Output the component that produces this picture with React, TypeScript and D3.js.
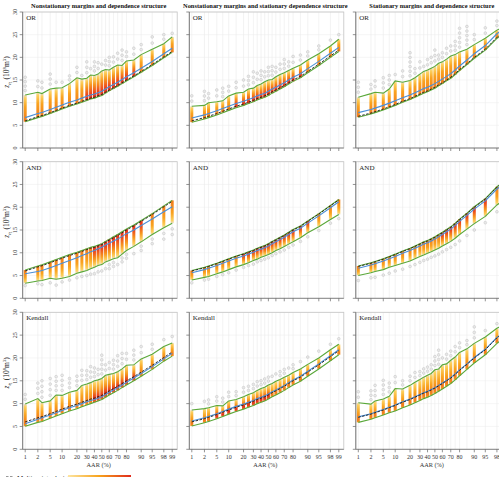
import React, { useRef, useEffect } from 'react';
import * as d3 from 'd3';

// AAR (%) positions of the simulated columns
const aar = [1, 2, 3, 5, 7.5, 10, 15, 20, 25, 30, 35, 40, 45, 50, 55, 60, 65, 70, 75, 80, 85, 90, 95, 98, 99];
const xTickValues = [1, 2, 5, 10, 20, 30, 40, 50, 60, 70, 80, 90, 95, 98, 99];
const yTickValues = [0, 5, 10, 15, 20, 25, 30];

const colTitles = [
  'Nonstationary margins and dependence structure',
  'Nonstationary margins and stationary dependence structure',
  'Stationary margins and dependence structure',
];
const rowNames = ['OR', 'AND', 'Kendall'];

// design line (black dashed), one per column
const designC1 = [6.0, 6.9, 7.15, 7.8, 8.3, 8.8, 9.4, 9.9, 10.3, 10.7, 11.0, 11.2, 11.5, 11.8, 12.3, 12.8, 13.3, 13.8, 14.4, 15.0, 15.9, 16.9, 18.4, 20.1, 21.3];
const designC2 = [6.0, 6.7, 7.0, 7.6, 8.1, 8.6, 9.2, 9.7, 10.1, 10.5, 10.9, 11.2, 11.5, 11.9, 12.4, 12.8, 13.3, 13.8, 14.4, 15.0, 15.8, 16.9, 18.5, 20.3, 21.6];
const designC3 = [7.0, 7.7, 8.0, 8.6, 9.1, 9.6, 10.3, 10.9, 11.4, 11.9, 12.3, 12.6, 13.0, 13.4, 13.9, 14.4, 15.0, 15.6, 16.4, 17.3, 18.6, 20.0, 21.8, 24.4, 25.8];

// OR
const orC1Blue = [6.7, 7.6, 7.85, 8.5, 9.0, 9.5, 10.1, 10.6, 11.0, 11.4, 11.7, 11.9, 12.2, 12.5, 13.0, 13.5, 14.0, 14.5, 15.1, 15.7, 16.6, 17.6, 19.1, 20.8, 22.0];
const orC1Lower = [5.8, 6.7, 6.95, 7.6, 8.1, 8.6, 9.2, 9.7, 10.1, 10.5, 10.8, 11.0, 11.3, 11.6, 12.1, 12.6, 13.1, 13.6, 14.2, 14.8, 15.7, 16.7, 18.2, 19.9, 21.1];
const orC1Upper = [11.7, 12.3, 12.0, 13.0, 13.2, 13.3, 14.2, 15.5, 15.2, 15.4, 16.1, 16.0, 16.3, 17.0, 17.3, 17.2, 17.8, 18.3, 18.2, 19.2, 19.4, 20.6, 21.8, 23.0, 24.5];
const orC1Out = [15.6, 14.8, 14.5, 16.3, 14.5, 14.5, 15.9, 17.8, 16.0, 19.0, 17.5, 19.0, 18.8, 18.5, 19.3, 20.0, 20.1, 20.9, 21.6, 21.2, 22.0, 22.8, 24.5, 25.0, 25.3];

const orC2Blue = [6.6, 7.3, 7.6, 8.2, 8.7, 9.2, 9.8, 10.3, 10.7, 11.1, 11.5, 11.8, 12.1, 12.5, 13.0, 13.4, 13.9, 14.4, 15.0, 15.6, 16.4, 17.5, 19.1, 20.9, 22.2];
const orC2Lower = [5.7, 6.4, 6.7, 7.3, 7.8, 8.3, 8.9, 9.4, 9.8, 10.2, 10.6, 10.9, 11.2, 11.6, 12.1, 12.5, 13.0, 13.5, 14.1, 14.7, 15.5, 16.6, 18.2, 20.0, 21.3];
const orC2Upper = [9.2, 9.4, 10.0, 10.2, 10.4, 11.5, 12.1, 12.3, 13.0, 13.2, 13.8, 14.1, 14.6, 15.0, 15.1, 15.7, 16.2, 16.6, 17.1, 17.6, 18.3, 19.4, 20.8, 22.5, 24.0];
const orC2Out = [11.5, 12.5, 12.0, 12.8, 13.2, 13.6, 14.5, 15.0, 15.8, 16.8, 16.5, 17.0, 16.8, 17.8, 18.0, 17.8, 18.5, 19.5, 19.0, 20.2, 20.5, 21.2, 22.5, 23.8, 25.0];

const orC3Blue = [7.8, 8.5, 8.8, 9.4, 9.9, 10.4, 11.1, 11.7, 12.2, 12.7, 13.1, 13.4, 13.8, 14.2, 14.7, 15.2, 15.8, 16.4, 17.2, 18.1, 19.4, 20.8, 22.6, 25.2, 26.6];
const orC3Lower = [6.8, 7.5, 7.8, 8.4, 8.9, 9.4, 10.1, 10.7, 11.2, 11.7, 12.1, 12.4, 12.8, 13.2, 13.7, 14.2, 14.8, 15.4, 16.2, 17.1, 18.4, 19.8, 21.6, 24.2, 25.6];
const orC3Upper = [11.2, 12.0, 12.3, 12.1, 13.0, 14.8, 14.5, 14.9, 15.5, 16.3, 16.9, 17.2, 17.6, 18.0, 18.7, 19.0, 19.6, 20.3, 20.6, 21.2, 21.8, 22.8, 24.2, 26.0, 27.0];
const orC3Out = [14.5, 14.0, 14.8, 15.5, 16.0, 16.2, 17.0, 21.0, 17.5, 19.0, 18.0, 19.5, 20.0, 21.6, 20.5, 21.0, 22.0, 22.5, 23.5, 26.4, 26.8, 25.0, 26.5, 28.0, 28.5];

// AND
const andC1Blue = [5.4, 5.9, 6.1, 6.7, 7.2, 7.7, 8.3, 8.9, 9.4, 9.8, 10.2, 10.5, 10.9, 11.2, 11.7, 12.1, 12.6, 13.0, 13.6, 14.2, 15.0, 16.0, 17.4, 19.0, 20.1];
const andC1Upper = [6.2, 7.1, 7.35, 8.0, 8.5, 9.0, 9.6, 10.1, 10.5, 10.9, 11.2, 11.4, 11.7, 12.0, 12.5, 13.0, 13.5, 14.0, 14.6, 15.2, 16.1, 17.1, 18.6, 20.3, 21.5];
const andC1Lower = [3.3, 3.8, 3.9, 4.4, 4.2, 4.4, 4.8, 5.5, 5.8, 6.1, 6.5, 6.8, 7.2, 7.4, 8.0, 8.3, 8.7, 8.9, 9.7, 10.5, 11.4, 12.4, 14.0, 15.5, 16.5];
const andC1Out = [2.8, 3.2, 3.0, 3.4, 2.9, 3.6, 4.0, 4.5, 4.8, 5.0, 5.3, 5.4, 5.8, 6.0, 6.5, 6.5, 7.0, 7.4, 8.0, 8.8, 9.8, 10.5, 12.0, 13.0, 14.0];

const andC2Blue = [5.6, 6.3, 6.6, 7.2, 7.7, 8.2, 8.8, 9.3, 9.7, 10.1, 10.5, 10.8, 11.1, 11.5, 12.0, 12.4, 12.9, 13.4, 14.0, 14.6, 15.4, 16.5, 18.1, 19.9, 21.2];
const andC2Upper = [6.1, 6.8, 7.1, 7.7, 8.2, 8.7, 9.3, 9.8, 10.2, 10.6, 11.0, 11.3, 11.6, 12.0, 12.5, 12.9, 13.4, 13.9, 14.5, 15.1, 15.9, 17.0, 18.6, 20.4, 21.7];
const andC2Lower = [4.0, 4.6, 4.8, 5.4, 5.8, 6.3, 6.9, 7.4, 7.8, 8.3, 8.6, 9.0, 9.3, 9.6, 10.0, 10.5, 10.9, 11.4, 11.9, 12.4, 13.3, 14.4, 15.7, 17.3, 18.4];
const andC2Out = [3.4, 4.0, 4.2, 4.8, 5.2, 5.6, 6.2, 6.8, 7.2, 7.5, 8.0, 8.3, 8.6, 8.9, 9.4, 9.8, 10.2, 10.6, 11.2, 11.7, 12.5, 13.5, 14.9, 16.5, 17.5];

const andC3Blue = [6.6, 7.3, 7.6, 8.2, 8.7, 9.2, 9.9, 10.5, 11.0, 11.5, 11.9, 12.2, 12.6, 13.0, 13.5, 14.0, 14.6, 15.2, 16.0, 16.9, 18.2, 19.6, 21.4, 24.0, 25.4];
const andC3Upper = [7.1, 7.8, 8.1, 8.7, 9.2, 9.7, 10.4, 11.0, 11.5, 12.0, 12.4, 12.7, 13.1, 13.5, 14.0, 14.5, 15.1, 15.7, 16.5, 17.4, 18.7, 20.1, 21.9, 24.5, 25.9];
const andC3Lower = [5.0, 5.6, 5.9, 6.3, 6.8, 7.2, 7.7, 8.2, 8.7, 9.2, 9.5, 9.9, 10.2, 10.6, 11.0, 11.5, 12.0, 12.5, 13.2, 14.0, 15.2, 16.4, 18.0, 20.5, 21.8];
const andC3Out = [3.9, 4.5, 4.6, 5.1, 5.5, 6.0, 6.4, 7.0, 7.4, 7.9, 8.3, 8.6, 9.0, 9.3, 9.7, 10.2, 10.7, 11.2, 11.8, 12.6, 13.8, 15.0, 16.6, 19.0, 20.5];

// Kendall
const kenC1Blue = [5.6, 6.6, 6.9, 7.5, 8.0, 8.5, 9.1, 9.6, 10.0, 10.4, 10.7, 10.9, 11.2, 11.5, 12.0, 12.5, 13.0, 13.5, 14.1, 14.7, 15.6, 16.6, 18.1, 19.8, 21.0];
const kenC1Lower = [5.05, 5.9, 6.1, 6.8, 7.3, 7.8, 8.4, 8.9, 9.3, 9.7, 10.0, 10.3, 10.6, 10.9, 11.4, 11.9, 12.4, 12.9, 13.5, 14.1, 15.0, 16.0, 17.5, 19.3, 20.4];
const kenC1Upper = [9.9, 11.1, 10.2, 10.6, 11.9, 11.8, 12.5, 12.9, 14.0, 14.3, 14.6, 15.0, 15.2, 15.5, 16.2, 16.4, 16.6, 17.0, 17.6, 18.4, 18.5, 19.8, 20.8, 22.5, 23.3];
const kenC1Out = [12.0, 14.5, 15.0, 15.5, 15.9, 16.2, 15.5, 16.0, 17.3, 17.2, 18.1, 17.8, 17.5, 20.6, 18.5, 19.0, 19.5, 20.5, 21.0, 21.0, 21.7, 22.5, 23.0, 24.0, 24.7];

const kenC2Blue = [6.2, 6.9, 7.2, 7.8, 8.3, 8.8, 9.4, 9.9, 10.3, 10.7, 11.1, 11.4, 11.7, 12.1, 12.6, 13.0, 13.5, 14.0, 14.6, 15.2, 16.0, 17.1, 18.7, 20.5, 21.8];
const kenC2Lower = [5.1, 5.8, 6.1, 6.7, 7.2, 7.7, 8.3, 8.8, 9.2, 9.6, 10.0, 10.3, 10.6, 11.0, 11.5, 11.9, 12.4, 12.9, 13.5, 14.1, 14.9, 16.0, 17.6, 19.4, 20.7];
const kenC2Upper = [8.6, 8.9, 9.1, 9.6, 9.5, 10.6, 10.9, 11.5, 12.0, 12.4, 12.9, 13.3, 13.6, 14.1, 14.4, 14.9, 15.3, 15.8, 16.2, 16.8, 17.6, 18.6, 20.0, 21.8, 23.0];
const kenC2Out = [10.0, 10.5, 10.8, 11.5, 11.2, 12.5, 12.6, 13.5, 13.8, 14.2, 14.8, 15.0, 15.4, 15.8, 16.0, 16.5, 17.0, 17.5, 17.8, 18.5, 19.2, 20.2, 21.5, 23.0, 24.2];

const kenC3Blue = [7.1, 7.8, 8.1, 8.7, 9.2, 9.7, 10.4, 11.0, 11.5, 12.0, 12.4, 12.7, 13.1, 13.5, 14.0, 14.5, 15.1, 15.7, 16.5, 17.4, 18.7, 20.1, 21.9, 24.5, 25.9];
const kenC3Lower = [5.9, 6.6, 6.9, 7.5, 8.0, 8.4, 9.1, 9.7, 10.2, 10.7, 11.1, 11.4, 11.8, 12.2, 12.7, 13.2, 13.8, 14.4, 15.2, 16.1, 17.5, 18.9, 20.7, 23.2, 24.6];
const kenC3Upper = [10.2, 9.9, 10.6, 11.0, 11.6, 13.3, 13.2, 14.0, 14.7, 15.3, 15.8, 16.2, 16.6, 17.4, 17.6, 18.5, 18.7, 19.5, 20.2, 21.2, 22.0, 23.2, 24.6, 26.5, 27.5];
const kenC3Out = [12.6, 12.8, 14.0, 15.1, 14.5, 15.9, 15.0, 16.0, 16.8, 17.0, 17.6, 18.0, 18.5, 20.3, 21.7, 20.0, 20.8, 21.5, 22.5, 23.3, 23.8, 26.8, 26.0, 27.5, 28.0];

const panels = [
  { row: 0, col: 0, design: designC1, blue: orC1Blue, lower: orC1Lower, upper: orC1Upper, out: orC1Out, hot: [30, 85] },
  { row: 0, col: 1, design: designC2, blue: orC2Blue, lower: orC2Lower, upper: orC2Upper, out: orC2Out, hot: [15, 85] },
  { row: 0, col: 2, design: designC3, blue: orC3Blue, lower: orC3Lower, upper: orC3Upper, out: orC3Out, hot: [200, 200] },
  { row: 1, col: 0, design: designC1, blue: andC1Blue, lower: andC1Lower, upper: andC1Upper, out: andC1Out, hot: [40, 90] },
  { row: 1, col: 1, design: designC2, blue: andC2Blue, lower: andC2Lower, upper: andC2Upper, out: andC2Out, hot: [20, 90] },
  { row: 1, col: 2, design: designC3, blue: andC3Blue, lower: andC3Lower, upper: andC3Upper, out: andC3Out, hot: [60, 95] },
  { row: 2, col: 0, design: designC1, blue: kenC1Blue, lower: kenC1Lower, upper: kenC1Upper, out: kenC1Out, hot: [40, 85] },
  { row: 2, col: 1, design: designC2, blue: kenC2Blue, lower: kenC2Lower, upper: kenC2Upper, out: kenC2Out, hot: [5, 50] },
  { row: 2, col: 2, design: designC3, blue: kenC3Blue, lower: kenC3Lower, upper: kenC3Upper, out: kenC3Out, hot: [200, 200] },
];

const gradients = {
  or_warm: [[0, '#e8dcc4'], [0.12, '#fcd05e'], [0.45, '#f9a21f'], [1, '#f27a1b']],
  or_hot: [[0, '#e8dcc4'], [0.12, '#fcd05e'], [0.4, '#f7961f'], [0.75, '#ec471d'], [1, '#e3301b']],
  and_warm: [[0, '#f27a1b'], [0.55, '#f9a21f'], [0.88, '#fcd05e'], [1, '#e8dcc4']],
  and_hot: [[0, '#e3301b'], [0.25, '#ec471d'], [0.6, '#f7961f'], [0.88, '#fcd05e'], [1, '#e8dcc4']],
  ken_warm: [[0, '#e8dcc4'], [0.12, '#fcd05e'], [0.5, '#f9a21f'], [0.85, '#f27a1b'], [1, '#f59a22']],
  ken_hot: [[0, '#e8dcc4'], [0.12, '#fcd05e'], [0.45, '#f7961f'], [0.8, '#e3301b'], [1, '#ef6a1f']],
};

const App = () => {
  const ref = useRef(null);

  useEffect(() => {
    const svg = d3.select(ref.current);
    svg.selectAll('*').remove();

    const font = 'Liberation Serif';
    const colLeft = [22.7, 189.3, 355.8];
    const panelW = 154.5;
    const rowTop = [12, 161.7, 312.3];
    const rowBottom = [148, 298.3, 449.3];
    const tickFrac = [0, 0.086, 0.17, 0.251, 0.352, 0.419, 0.471, 0.521, 0.572, 0.629, 0.689, 0.789, 0.864, 0.943, 1];

    const defs = svg.append('defs');
    Object.entries(gradients).forEach(([id, stops]) => {
      const g = defs.append('linearGradient').attr('id', id)
        .attr('x1', 0).attr('y1', 0).attr('x2', 0).attr('y2', 1);
      stops.forEach(([o, c]) => g.append('stop').attr('offset', o).attr('stop-color', c));
    });
    const leg = defs.append('linearGradient').attr('id', 'legend');
    [[0, '#fde5a0'], [0.5, '#f7a21b'], [1, '#e02a1c']].forEach(([o, c]) =>
      leg.append('stop').attr('offset', o).attr('stop-color', c));

    const clip = defs.append('clipPath').attr('id', 'page');
    clip.append('rect').attr('width', 499).attr('height', 477);

    const root = svg.append('g').attr('clip-path', 'url(#page)');

    // column titles
    colTitles.forEach((t, c) => {
      root.append('text')
        .attr('x', colLeft[c] + 2.5 + 73.5)
        .attr('y', 8)
        .attr('text-anchor', 'middle')
        .attr('font-family', font)
        .attr('font-weight', 'bold')
        .attr('font-size', 6.4)
        .attr('fill', '#111')
        .text(t);
    });

    panels.forEach(p => {
      const left = colLeft[p.col];
      const top = rowTop[p.row];
      const bottom = rowBottom[p.row];
      const x = d3.scaleLinear()
        .domain(xTickValues)
        .range(tickFrac.map(f => left + 2.5 + f * 147));
      const y = d3.scaleLinear().domain([0, 30]).range([bottom, top]);
      const g = root.append('g');

      // grid
      g.append('g').selectAll('line').data(yTickValues).enter().append('line')
        .attr('x1', left).attr('x2', left + panelW)
        .attr('y1', d => y(d)).attr('y2', d => y(d))
        .attr('stroke', '#f0f0f0').attr('stroke-width', 0.6);
      g.append('g').selectAll('line').data(aar).enter().append('line')
        .attr('x1', d => x(d)).attr('x2', d => x(d))
        .attr('y1', top).attr('y2', bottom)
        .attr('stroke', '#ebebeb').attr('stroke-width', 0.6);

      // frame
      g.append('rect')
        .attr('x', left).attr('y', top)
        .attr('width', panelW).attr('height', bottom - top)
        .attr('fill', 'none').attr('stroke', '#c4c4c4').attr('stroke-width', 0.8);

      // outliers
      const kind = p.row === 0 ? 'or' : p.row === 1 ? 'and' : 'ken';
      const circles = [];
      aar.forEach((a, i) => {
        const from = p.row === 1 ? p.lower[i] : p.upper[i];
        const to = p.out[i];
        const n = Math.max(1, Math.round(Math.abs(to - from) / 1.1));
        for (let k = 1; k <= n; k++) circles.push([a, from + (to - from) * k / n]);
      });
      g.append('g').selectAll('circle').data(circles).enter().append('circle')
        .attr('cx', d => x(d[0])).attr('cy', d => y(d[1]))
        .attr('r', 1.4)
        .attr('fill', '#d6d6d6').attr('fill-opacity', 0.45)
        .attr('stroke', '#b0b0b0').attr('stroke-width', 0.5).attr('stroke-opacity', 0.7);

      // simulation strips
      g.append('g').selectAll('rect').data(aar).enter().append('rect')
        .attr('x', d => x(d) - 1.5)
        .attr('width', 3)
        .attr('y', (d, i) => y(p.upper[i]))
        .attr('height', (d, i) => y(p.lower[i]) - y(p.upper[i]))
        .attr('fill', d => `url(#${kind}_${d >= p.hot[0] && d <= p.hot[1] ? 'hot' : 'warm'})`);

      const line = arr => d3.line().x((d, i) => x(aar[i])).y(d => y(d))(arr);

      g.append('path').attr('d', line(p.upper)).attr('fill', 'none')
        .attr('stroke', '#5aa83a').attr('stroke-width', 1.1);
      g.append('path').attr('d', line(p.lower)).attr('fill', 'none')
        .attr('stroke', '#5aa83a').attr('stroke-width', 1.1);
      g.append('path').attr('d', line(p.blue)).attr('fill', 'none')
        .attr('stroke', '#4a8fd8').attr('stroke-width', 1.1);
      g.append('path').attr('d', line(p.design)).attr('fill', 'none')
        .attr('stroke', '#1a1a1a').attr('stroke-width', 0.9).attr('stroke-dasharray', '2.5,1.5');

      // left axis
      g.append('line')
        .attr('x1', left).attr('x2', left).attr('y1', top).attr('y2', bottom)
        .attr('stroke', '#666').attr('stroke-width', 0.8);
      g.append('g').selectAll('line').data(yTickValues).enter().append('line')
        .attr('x1', left - 3).attr('x2', left)
        .attr('y1', d => y(d)).attr('y2', d => y(d))
        .attr('stroke', '#666').attr('stroke-width', 0.7);
      if (p.col === 0) {
        g.append('g').selectAll('text').data(yTickValues).enter().append('text')
          .attr('transform', d => `translate(${left - 6},${y(d)}) rotate(-90)`)
          .attr('text-anchor', 'middle')
          .attr('font-family', font).attr('font-size', 6)
          .attr('fill', '#333')
          .text(d => d);
        const lab = g.append('text')
          .attr('transform', `translate(9,${(top + bottom) / 2 - 8}) rotate(-90)`)
          .attr('text-anchor', 'middle')
          .attr('font-family', font).attr('font-size', 7.5).attr('fill', '#222');
        lab.append('tspan').attr('font-style', 'italic').text('z');
        lab.append('tspan').attr('font-style', 'italic').attr('font-size', 5).attr('dy', 1.5).text('t');
        lab.append('tspan').attr('font-size', 4).attr('dy', 1).text('1');
        lab.append('tspan').attr('dy', -2.5).text('  (10');
        lab.append('tspan').attr('font-size', 4.8).attr('dy', -2.8).text('8');
        lab.append('tspan').attr('dy', 2.8).text('m');
        lab.append('tspan').attr('font-size', 4.8).attr('dy', -2.8).text('3');
        lab.append('tspan').attr('dy', 2.8).text(')');
      }

      // bottom axis
      g.append('line')
        .attr('x1', left).attr('x2', left + panelW).attr('y1', bottom).attr('y2', bottom)
        .attr('stroke', '#777').attr('stroke-width', 0.8);
      g.append('g').selectAll('line').data(xTickValues).enter().append('line')
        .attr('x1', d => x(d)).attr('x2', d => x(d))
        .attr('y1', bottom).attr('y2', bottom + 3)
        .attr('stroke', '#666').attr('stroke-width', 0.7);
      if (p.row === 2) {
        g.append('g').selectAll('text').data(xTickValues).enter().append('text')
          .attr('x', d => x(d)).attr('y', bottom + 10)
          .attr('text-anchor', 'middle')
          .attr('font-family', font).attr('font-size', 6)
          .attr('fill', '#333')
          .text(d => d);
        g.append('text')
          .attr('x', left + 2.5 + 73.5).attr('y', bottom + 18)
          .attr('text-anchor', 'middle')
          .attr('font-family', font).attr('font-size', 6.3)
          .attr('fill', '#333')
          .text('AAR (%)');
      }

      // panel label
      g.append('text')
        .attr('x', left + 3.5).attr('y', top + 8)
        .attr('font-family', font).attr('font-size', 7)
        .attr('fill', '#222')
        .text(rowNames[p.row]);
    });

    // legend (cut at bottom of figure)
    root.append('line')
      .attr('x1', 6).attr('x2', 14).attr('y1', 477).attr('y2', 477)
      .attr('stroke', '#1a1a1a').attr('stroke-width', 0.9).attr('stroke-dasharray', '2.5,1.5');
    root.append('text')
      .attr('x', 17).attr('y', 480)
      .attr('font-family', font).attr('font-size', 7)
      .attr('fill', '#222')
      .text('Multivariate design');
    root.append('rect')
      .attr('x', 68).attr('y', 475).attr('width', 63).attr('height', 4)
      .attr('fill', 'url(#legend)');
  }, []);

  return (
    <svg ref={ref} width={499} height={477}
      style={{ position: 'absolute', left: 0, top: 0, background: '#fff' }} />
  );
};

export default App;
